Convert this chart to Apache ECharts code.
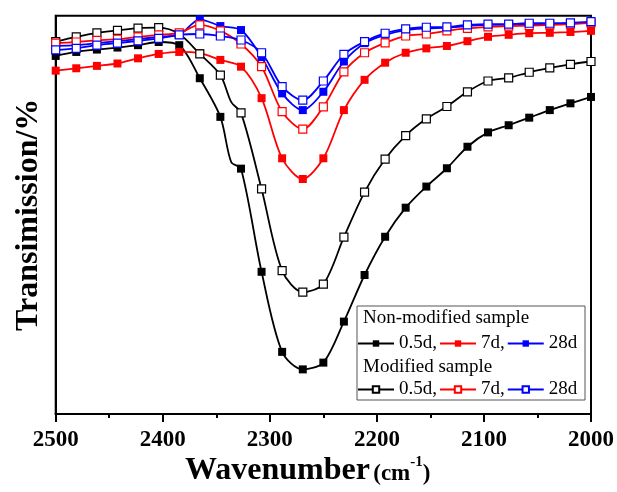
<!DOCTYPE html>
<html><head><meta charset="utf-8">
<script src="https://cdn.jsdelivr.net/npm/echarts@6/dist/echarts.min.js"></script>
<style>html,body{margin:0;padding:0;background:#fff}#c{width:617px;height:492px}</style>
</head><body><div id="c"></div>
<script>
// x positions of the sampled points (cm^-1)
const wavenumbers = [2500, 2480.8, 2461.5, 2442.3, 2423.1, 2403.8, 2384.6, 2365.4, 2346.2, 2326.9, 2307.7, 2288.5, 2269.2, 2250.0, 2230.8, 2211.5, 2192.3, 2173.1, 2153.8, 2134.6, 2115.4, 2096.2, 2076.9, 2057.7, 2038.5, 2019.2, 2000];
const xTickLabels = [2500, 2400, 2300, 2200, 2100, 2000];
// Transmission (arbitrary, 0..100 of plot height)
const nonMod05 = [89.9, 90.9, 91.5, 92.0, 92.6, 93.4, 92.6, 84.3, 74.6, 61.6, 35.7, 15.6, 11.2, 12.9, 23.2, 34.9, 44.5, 51.8, 57.1, 61.7, 67.1, 70.7, 72.5, 74.4, 76.3, 78.0, 79.6];
const nonMod7  = [86.2, 86.8, 87.4, 88.0, 89.3, 90.4, 90.9, 90.6, 88.9, 87.2, 79.3, 64.2, 59.0, 64.2, 76.3, 83.9, 88.2, 90.7, 91.8, 92.4, 93.6, 94.7, 95.2, 95.6, 95.7, 95.9, 96.2];
const nonMod28 = [92.4, 92.6, 93.1, 93.6, 94.1, 94.7, 95.2, 99.1, 97.4, 96.4, 89.6, 80.5, 76.3, 80.9, 88.5, 93.1, 95.2, 96.4, 96.8, 97.0, 97.4, 97.7, 97.7, 97.9, 97.9, 98.0, 98.3];
const mod05    = [93.5, 94.7, 95.7, 96.3, 96.9, 97.0, 95.4, 90.4, 85.1, 75.6, 56.5, 36.0, 30.6, 32.6, 44.4, 55.7, 64.0, 69.9, 74.1, 77.2, 80.9, 83.6, 84.4, 85.8, 86.9, 87.8, 88.5];
const mod7     = [93.1, 93.4, 93.8, 94.1, 94.7, 95.2, 95.7, 97.7, 96.2, 92.9, 87.2, 75.9, 71.5, 77.1, 85.9, 90.7, 93.2, 94.9, 95.4, 96.2, 96.8, 97.2, 97.4, 97.5, 97.7, 97.9, 98.2];
const mod28    = [91.4, 91.8, 92.6, 93.1, 93.7, 94.3, 95.2, 95.4, 94.9, 93.9, 90.7, 82.2, 78.8, 83.6, 90.3, 93.5, 95.6, 96.7, 97.1, 97.2, 97.7, 97.9, 97.9, 98.1, 98.1, 98.2, 98.5];
// small shoulders in the spectra between markers (no symbol): [wavenumber, value]
const nonMod05Shoulder = [2336.0, 63.2];
const mod05Shoulder    = [2336.0, 78.3];
const legendLabels = {nm05: '0.5d,', nm7: '7d,', nm28: '28d', m05: '0.5d,', m7: '7d,', m28: '28d'};
const groupTitles = ['Non-modified sample', 'Modified sample'];

const FONT = "'Liberation Serif', 'Times New Roman', serif";

function buildData(vals, extra) {
  const d = wavenumbers.map((w, i) => ({value: [w, vals[i]]}));
  if (extra) {
    const idx = d.findIndex(p => p.value[0] < extra[0]);
    d.splice(idx, 0, {value: extra, symbol: 'none'});
  }
  return d;
}

function mk(id, vals, color, filled, extra) {
  return {
    id: id, name: id, type: 'line', data: buildData(vals, extra),
    smooth: 0.3, symbol: 'rect', symbolSize: 8, showAllSymbol: true,
    lineStyle: {color: color, width: 1.8},
    itemStyle: {color: filled ? color : '#fff', borderColor: color, borderWidth: filled ? 0 : 1.2},
    emphasis: {disabled: true}
  };
}

const legendCommon = {orient: 'horizontal', padding: 0, itemWidth: 36, itemHeight: 8, itemGap: 2, selectedMode: false,
  formatter: n => legendLabels[n], textStyle: {fontFamily: FONT, fontSize: 19, color: '#000'}};

const chart = echarts.init(document.getElementById('c'), null, {renderer: 'canvas'});
chart.setOption({
  animation: false,
  backgroundColor: '#fff',
  grid: {left: 55.7, right: 24.7, top: 15.7, bottom: 78, show: true, borderColor: '#000', borderWidth: 2, backgroundColor: 'transparent'},
  xAxis: {
    type: 'value', min: 2000, max: 2500, interval: 100, inverse: true,
    axisLine: {show: true, lineStyle: {color: '#000', width: 2}},
    axisTick: {show: true, inside: false, length: 8, lineStyle: {color: '#000', width: 2}},
    minorTick: {show: true, splitNumber: 2, length: 4, lineStyle: {color: '#000', width: 2}},
    splitLine: {show: false},
    axisLabel: {fontFamily: FONT, fontSize: 23, fontWeight: 'bold', color: '#000', margin: 15,
      formatter: v => xTickLabels.indexOf(v) >= 0 ? String(v) : ''}
  },
  yAxis: {
    type: 'value', min: 0, max: 100,
    name: 'Transimission/%', nameLocation: 'middle', nameRotate: 90, nameGap: 11,
    nameTextStyle: {fontFamily: FONT, fontSize: 32, fontWeight: 'bold', color: '#000'},
    axisLine: {show: true, lineStyle: {color: '#000', width: 2}},
    axisTick: {show: false}, axisLabel: {show: false}, splitLine: {show: false}
  },
  legend: [
    Object.assign({data: ['nm05', 'nm7', 'nm28'], left: 357, top: 334}, legendCommon),
    Object.assign({data: ['m05', 'm7', 'm28'], left: 357, top: 380}, legendCommon)
  ],
  graphic: [
    {type: 'rect', shape: {x: 357, y: 306, width: 228, height: 94}, style: {fill: 'transparent', stroke: '#555', lineWidth: 1}, z: 100},
    {type: 'text', x: 363, y: 318, style: {text: groupTitles[0], font: "19px 'Liberation Serif'", fill: '#000', verticalAlign: 'middle'}, z: 100},
    {type: 'text', x: 363, y: 367, style: {text: groupTitles[1], font: "19px 'Liberation Serif'", fill: '#000', verticalAlign: 'middle'}, z: 100},
    {type: 'text', x: 185, y: 471, style: {
      text: '{a|Wavenumber} {b|(cm}{c|-1}{b|)}', verticalAlign: 'middle', fill: '#000',
      rich: {
        a: {fontFamily: FONT, fontSize: 32, fontWeight: 'bold', verticalAlign: 'bottom'},
        b: {fontFamily: FONT, fontSize: 23, fontWeight: 'bold', verticalAlign: 'bottom', padding: [0, 0, 1, 0]},
        c: {fontFamily: FONT, fontSize: 15, fontWeight: 'bold', verticalAlign: 'top'}
      }}, z: 100}
  ],
  series: [
    mk('nm05', nonMod05, '#000', true, nonMod05Shoulder),
    mk('nm7', nonMod7, '#f00', true),
    mk('nm28', nonMod28, '#00f', true),
    mk('m05', mod05, '#000', false, mod05Shoulder),
    mk('m7', mod7, '#f00', false),
    mk('m28', mod28, '#00f', false)
  ]
});
</script></body></html>
